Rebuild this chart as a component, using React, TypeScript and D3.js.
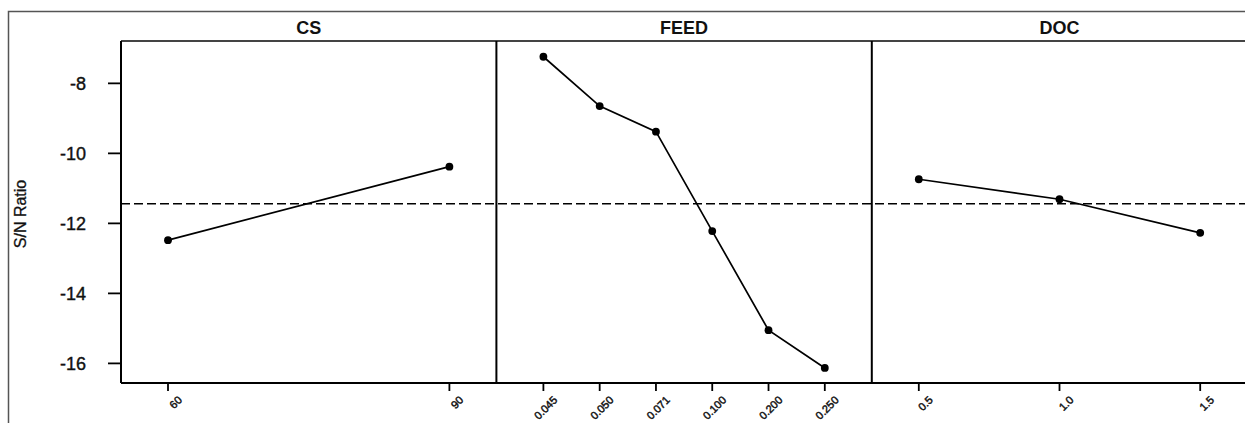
import React, { useEffect, useRef } from 'react';
import * as d3 from 'd3';

// Main effects plot for S/N ratios
const factorNames = ["CS", "FEED", "DOC"];
const csLevels = ["60", "90"];
const csValues = [-12.48, -10.38];
const feedLevels = ["0.045", "0.050", "0.071", "0.100", "0.200", "0.250"];
const feedValues = [-7.24, -8.65, -9.38, -12.22, -15.05, -16.13];
const docLevels = ["0.5", "1.0", "1.5"];
const docValues = [-10.74, -11.31, -12.27];
const yTicks = [-8, -10, -12, -14, -16];

const WIDTH = 1245;
const HEIGHT = 423;

function App() {
  const svgRef = useRef<SVGSVGElement>(null);

  useEffect(() => {
    const svg = d3.select(svgRef.current);
    svg.selectAll("*").remove();

    const panels = [
      { name: factorNames[0], levels: csLevels, values: csValues },
      { name: factorNames[1], levels: feedLevels, values: feedValues },
      { name: factorNames[2], levels: docLevels, values: docValues },
    ];

    const allValues = [...csValues, ...feedValues, ...docValues];
    const grandMean = d3.mean(allValues) as number;

    const top = 41;
    const bottom = 383;
    const left = 121;
    const panelW = 375.4;
    const inset = 47;

    const y = d3.scaleLinear().domain([-16.56, -6.79]).range([bottom, top]);
    const panelX = d3.scaleLinear().domain([0, 3]).range([left, left + 3 * panelW]);

    svg.append("rect").attr("width", WIDTH).attr("height", HEIGHT).attr("fill", "#fff");

    // outer frame (cropped on the right / bottom)
    svg.append("path")
      .attr("d", `M8.5,${HEIGHT} V11.5 H${WIDTH}`)
      .attr("fill", "none")
      .attr("stroke", "#555")
      .attr("stroke-width", 1.5);

    // strip bottom line
    svg.append("line")
      .attr("x1", left).attr("x2", WIDTH)
      .attr("y1", top).attr("y2", top)
      .attr("stroke", "#444").attr("stroke-width", 2);

    const font = "Liberation Sans, Arial, sans-serif";

    // y axis
    const yAxis = svg.append("g");
    yAxis.append("line")
      .attr("x1", left).attr("x2", left)
      .attr("y1", top).attr("y2", bottom)
      .attr("stroke", "#000").attr("stroke-width", 2);
    yTicks.forEach(t => {
      yAxis.append("line")
        .attr("x1", left - 13).attr("x2", left)
        .attr("y1", y(t)).attr("y2", y(t))
        .attr("stroke", "#000").attr("stroke-width", 1.8);
      yAxis.append("text")
        .attr("x", 86).attr("y", y(t))
        .attr("dy", "0.36em")
        .attr("text-anchor", "end")
        .attr("font-family", font)
        .attr("font-size", 18)
        .attr("fill", "#111")
        .attr("stroke", "#111")
        .attr("stroke-width", 0.4)
        .text(t);
    });

    svg.append("text")
      .attr("transform", `translate(26,214) rotate(-90)`)
      .attr("text-anchor", "middle")
      .attr("font-family", font)
      .attr("font-size", 16)
      .attr("fill", "#111")
      .attr("stroke", "#111")
      .attr("stroke-width", 0.3)
      .text("S/N Ratio");

    // bottom axis line
    svg.append("line")
      .attr("x1", left).attr("x2", WIDTH)
      .attr("y1", bottom).attr("y2", bottom)
      .attr("stroke", "#000").attr("stroke-width", 2);

    // grand mean reference line
    svg.append("line")
      .attr("x1", 121).attr("x2", WIDTH)
      .attr("y1", y(grandMean)).attr("y2", y(grandMean))
      .attr("stroke", "#000")
      .attr("stroke-width", 1.4)
      .attr("stroke-dasharray", "9,4");

    panels.forEach((p, i) => {
      const x0 = panelX(i);
      const x1 = panelX(i + 1);
      const g = svg.append("g");

      if (i > 0) {
        g.append("line")
          .attr("x1", x0).attr("x2", x0)
          .attr("y1", top).attr("y2", bottom)
          .attr("stroke", "#000").attr("stroke-width", 2);
      }

      g.append("text")
        .attr("x", (x0 + x1) / 2).attr("y", 34)
        .attr("text-anchor", "middle")
        .attr("font-family", font)
        .attr("font-weight", "bold")
        .attr("font-size", 18)
        .attr("fill", "#111")
        .text(p.name);

      const x = d3.scalePoint<string>().domain(p.levels).range([x0 + inset, x1 - inset]);

      p.levels.forEach(l => {
        g.append("line")
          .attr("x1", x(l)).attr("x2", x(l))
          .attr("y1", bottom).attr("y2", bottom + 8)
          .attr("stroke", "#000").attr("stroke-width", 1.8);
        g.append("text")
          .attr("transform", `translate(${(x(l) as number) + 12},398) rotate(-45)`)
          .attr("dy", "0.35em")
          .attr("text-anchor", "end")
          .attr("font-family", font)
          .attr("font-size", 11)
          .attr("fill", "#111")
          .attr("stroke", "#111")
          .attr("stroke-width", 0.45)
          .text(l);
      });

      const pts = p.levels.map((l, k) => [x(l) as number, y(p.values[k])] as [number, number]);

      g.append("path")
        .attr("d", d3.line()(pts))
        .attr("fill", "none")
        .attr("stroke", "#000")
        .attr("stroke-width", 1.7);

      g.selectAll("circle")
        .data(pts)
        .join("circle")
        .attr("cx", d => d[0])
        .attr("cy", d => d[1])
        .attr("r", 3.9)
        .attr("fill", "#000");
    });
  }, []);

  return (
    <svg
      ref={svgRef}
      width={WIDTH}
      height={HEIGHT}
      style={{ position: "absolute", left: 0, top: 0, display: "block" }}
    ></svg>
  );
}

export default App;
